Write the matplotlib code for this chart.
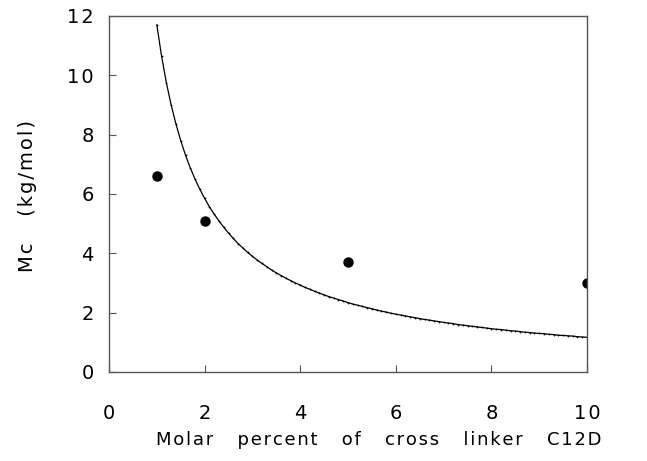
import numpy as np
import matplotlib
matplotlib.use("Agg")
import matplotlib.pyplot as plt

# Measured network molecular weight between cross-links
measured_x = [1, 2, 5, 10]
measured_mc = [6.6, 5.1, 3.7, 3.0]

# Theoretical Mc curve, sampled every 0.1 mol%
curve_x = np.round(np.arange(1.0, 10.01, 0.1), 1)
curve_mc = [
    11.70, 10.64, 9.75, 9.00, 8.36, 7.80, 7.31, 6.88, 6.50, 6.16,
    5.85, 5.57, 5.32, 5.09, 4.88, 4.68, 4.50, 4.33, 4.18, 4.03,
    3.90, 3.77, 3.66, 3.55, 3.44, 3.34, 3.25, 3.16, 3.08, 3.00,
    2.93, 2.85, 2.79, 2.72, 2.66, 2.60, 2.54, 2.49, 2.44, 2.39,
    2.34, 2.29, 2.25, 2.21, 2.17, 2.13, 2.09, 2.05, 2.02, 1.98,
    1.95, 1.92, 1.89, 1.86, 1.83, 1.80, 1.77, 1.75, 1.72, 1.70,
    1.67, 1.65, 1.63, 1.60, 1.58, 1.56, 1.54, 1.52, 1.50, 1.48,
    1.46, 1.44, 1.43, 1.41, 1.39, 1.38, 1.36, 1.34, 1.33, 1.31,
    1.30, 1.29, 1.27, 1.26, 1.24, 1.23, 1.22, 1.21, 1.19, 1.18,
    1.17,
]

x_ticks = [0, 2, 4, 6, 8, 10]
y_ticks = [0, 2, 4, 6, 8, 10, 12]

x_label = 'Molar   percent   of   cross   linker   C12D'
y_label = 'Mc   (kg/mol)'


def spaced(s):
    """Open up letter spacing with hair spaces between characters."""
    return '\u200a'.join(s)


plt.rcParams['font.family'] = ['DejaVu Sans']

fig = plt.figure(figsize=(6.47, 4.61), dpi=100)
ax = fig.add_axes([0.1685, 0.1931, 0.7388, 0.7722])

ax.plot(curve_x, curve_mc, color='black', linewidth=0.9,
        marker='o', markersize=1.3, markeredgewidth=0)
ax.plot(measured_x, measured_mc, linestyle='none', marker='o',
        markersize=6.5, color='black')

ax.set_xlim(0, 10)
ax.set_ylim(0, 12)
ax.set_xticks(x_ticks)
ax.set_yticks(y_ticks)
ax.set_xticklabels([spaced(str(t)) for t in x_ticks])
ax.set_yticklabels([spaced(str(t)) for t in y_ticks])

for s in ax.spines.values():
    s.set_color('#555555')
    s.set_linewidth(1.0)

ax.tick_params(axis='both', direction='in', length=5, width=0.8,
               color='#555555', labelsize=14)
ax.tick_params(axis='x', pad=23)
ax.tick_params(axis='y', pad=11)

fig.text(0.585, 0.045, spaced(x_label), ha='center', va='center',
         fontsize=13)
fig.text(0.042, 0.575, spaced(y_label), ha='center', va='center',
         rotation=90, fontsize=14)

fig.savefig('out.png', dpi=100)
